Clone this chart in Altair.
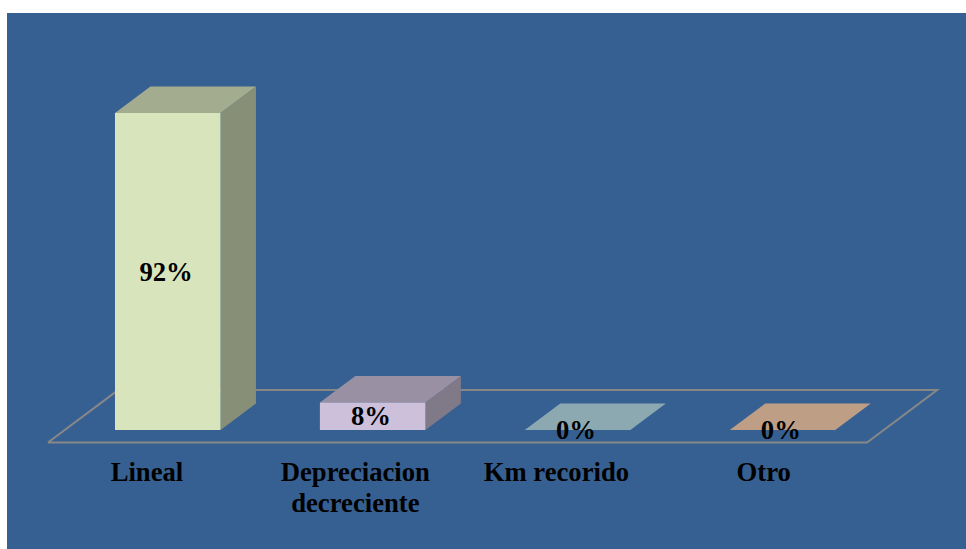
import altair as alt
import pandas as pd

# Survey shares per depreciation method
categories = ["Lineal", "Depreciacion\ndecreciente", "Km recorido", "Otro"]
shares = [92, 8, 0, 0]
value_labels = ["92%", "8%", "0%", "0%"]

front_colors = ["#D7E4BC", "#CCC0DA", "#B7DEE8", "#FCD5B5"]
top_colors = ["#A3AC8E", "#9A90A4", "#8CA9B2", "#BE9F86"]
side_colors = ["#878F77", "#807A88", "#748C94", "#9E846F"]

# Pseudo-3D geometry, in data units
BAR_W = 0.515
DEPTH_X = 0.173
DEPTH_Y = 7.7
LABEL_SHIFT = [0.156, 0.173, 0.154, 0.166]
FONT = "Liberation Serif"
FONT_SIZE = 26.7

x_scale = alt.Scale(domain=[-0.527, 4.153], nice=False, zero=False)
y_scale = alt.Scale(domain=[-34.5, 121.0], nice=False, zero=False)
X = alt.X("x:Q", scale=x_scale, axis=None)
Y = alt.Y("y:Q", scale=y_scale, axis=None)

bars = pd.DataFrame({
    "name": categories,
    "pos": range(len(categories)),
    "value": shares,
    "label": value_labels,
    "shift": LABEL_SHIFT,
})
bars["x"] = bars["pos"]
bars["x2"] = bars["pos"] + BAR_W
bars["y"] = 0
bars["y2"] = bars["value"]
bars["label_x"] = bars["pos"] + BAR_W / 2 - 0.008
bars["label_y"] = bars["value"] / 2
bars["cat_x"] = bars["pos"] + bars["shift"]
bars["cat_y"] = -14.7

top_rows, side_rows = [], []
for _, b in bars.iterrows():
    top_rows.append({"name": b["name"], "y": b["value"], "x": b["pos"], "x2": b["pos"] + BAR_W})
    top_rows.append({"name": b["name"], "y": b["value"] + DEPTH_Y,
                     "x": b["pos"] + DEPTH_X, "x2": b["pos"] + BAR_W + DEPTH_X})
    if b["value"] > 0:
        side_rows.append({"name": b["name"], "x": b["pos"] + BAR_W, "y": 0, "y2": b["value"]})
        side_rows.append({"name": b["name"], "x": b["pos"] + BAR_W + DEPTH_X,
                          "y": DEPTH_Y, "y2": b["value"] + DEPTH_Y})
top = pd.DataFrame(top_rows)
side = pd.DataFrame(side_rows)

floor_x = [-0.327, 3.67, 4.012, 0.015, -0.327]
floor_y = [-3.6, -3.6, 11.6, 11.6, -3.6]
floor = pd.DataFrame({"x": floor_x, "y": floor_y, "step": range(len(floor_x))})


def face_color(colors):
    return alt.Color("name:N", scale=alt.Scale(domain=categories, range=colors), legend=None)


floor_layer = alt.Chart(floor).mark_line(color="#878787", strokeWidth=2).encode(
    x=X, y=Y, order="step:Q")
side_layer = alt.Chart(side).mark_area(orient="vertical", opacity=1).encode(
    x=X, y=Y, y2="y2:Q", color=face_color(side_colors), detail="name:N")
top_layer = alt.Chart(top).mark_area(orient="horizontal", opacity=1).encode(
    x=X, x2="x2:Q", y=Y, color=face_color(top_colors), detail="name:N")
front_layer = alt.Chart(bars).mark_rect().encode(
    x=X, x2="x2:Q", y=Y, y2="y2:Q", color=face_color(front_colors))
value_text = alt.Chart(bars).mark_text(
    font=FONT, fontWeight="bold", fontSize=FONT_SIZE, color="black",
    baseline="middle", align="center", dy=1,
).encode(
    x=alt.X("label_x:Q", scale=x_scale, axis=None),
    y=alt.Y("label_y:Q", scale=y_scale, axis=None),
    text="label:N",
)
category_text = alt.Chart(bars).mark_text(
    font=FONT, fontWeight="bold", fontSize=FONT_SIZE, color="black", baseline="alphabetic",
    align="center", lineBreak="\n", lineHeight=31,
).encode(
    x=alt.X("cat_x:Q", scale=x_scale, axis=None),
    y=alt.Y("cat_y:Q", scale=y_scale, axis=None),
    text="name:N",
)

chart = (
    alt.layer(floor_layer, side_layer, top_layer, front_layer, value_text, category_text)
    .resolve_scale(color="independent")
    .properties(
        width=959,
        height=536,
        background="white",
        padding={"left": 7, "top": 13, "right": 0, "bottom": 0},
        autosize=alt.AutoSizeParams(type="none"),
    )
    .configure_view(fill="#376092", stroke=None)
)

chart.save("out.html", embed_options={"renderer": "svg", "actions": False})
